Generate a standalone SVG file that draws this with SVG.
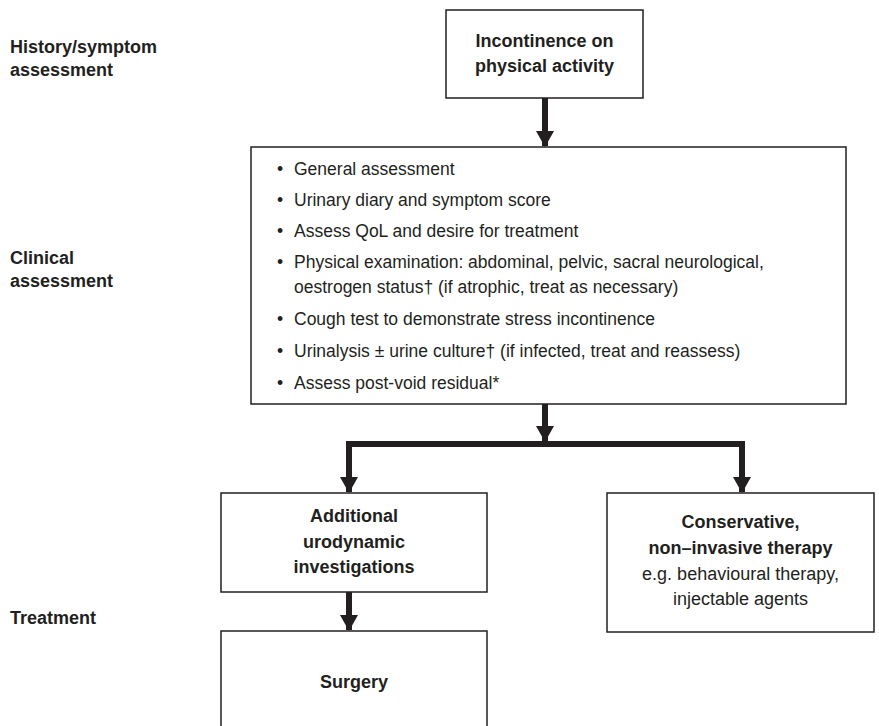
<svg xmlns="http://www.w3.org/2000/svg" width="879" height="726" viewBox="0 0 879 726">
<defs>
<style>
text{font-family:"Liberation Sans",Arial,sans-serif;fill:#231f20}
.lab{font-size:18px;font-weight:bold}
.ttl{font-size:18px;font-weight:bold;text-anchor:middle}
.sub{font-size:18px;text-anchor:middle}
.bul{font-size:17.5px}
.box{fill:#fff;stroke:#231f20;stroke-width:1.5}
.shaft{stroke:#231f20;stroke-width:6;fill:none}
</style>
<marker id="ah" markerWidth="16" markerHeight="18" refX="15" refY="9" orient="auto" markerUnits="userSpaceOnUse">
<path d="M0,0 L16,9 L0,18 Z" fill="#231f20"/>
</marker>
</defs>
<rect width="879" height="726" fill="#fff"/>
<g id="labels">
<text class="lab" x="10" y="53">History/symptom</text>
<text class="lab" x="10" y="76">assessment</text>
<text class="lab" x="10" y="264">Clinical</text>
<text class="lab" x="10" y="287">assessment</text>
<text class="lab" x="10" y="624">Treatment</text>
</g>
<g id="connectors">
<line class="shaft" x1="545" y1="98" x2="545" y2="146" marker-end="url(#ah)"/>
<line class="shaft" x1="545" y1="404" x2="545" y2="441" marker-end="url(#ah)"/>
<polyline class="shaft" points="349,480 349,444 742,444 742,480"/>
<line class="shaft" x1="349" y1="470" x2="349" y2="492" marker-end="url(#ah)"/>
<line class="shaft" x1="742" y1="470" x2="742" y2="492" marker-end="url(#ah)"/>
<line class="shaft" x1="349" y1="592" x2="349" y2="630" marker-end="url(#ah)"/>
</g>
<g id="node-start">
<rect class="box" x="446" y="10" width="197" height="88"/>
<text class="ttl" x="544.5" y="47">Incontinence on</text>
<text class="ttl" x="544.5" y="72">physical activity</text>
</g>
<g id="node-clinical">
<rect class="box" x="251" y="147" width="595" height="257"/>
<g class="bul">
<text x="277" y="175">•</text><text x="294" y="175">General assessment</text>
<text x="277" y="206">•</text><text x="294" y="206">Urinary diary and symptom score</text>
<text x="277" y="237">•</text><text x="294" y="237">Assess QoL and desire for treatment</text>
<text x="277" y="268">•</text><text x="294" y="268">Physical examination: abdominal, pelvic, sacral neurological,</text>
<text x="294" y="293">oestrogen status† (if atrophic, treat as necessary)</text>
<text x="277" y="325">•</text><text x="294" y="325">Cough test to demonstrate stress incontinence</text>
<text x="277" y="357">•</text><text x="294" y="357">Urinalysis ± urine culture† (if infected, treat and reassess)</text>
<text x="277" y="389">•</text><text x="294" y="389">Assess post-void residual*</text>
</g>
</g>
<g id="node-urodynamic">
<rect class="box" x="221" y="493" width="266" height="99"/>
<text class="ttl" x="354" y="522">Additional</text>
<text class="ttl" x="354" y="548">urodynamic</text>
<text class="ttl" x="354" y="573">investigations</text>
</g>
<g id="node-conservative">
<rect class="box" x="607" y="493" width="267" height="139"/>
<text class="ttl" x="740.5" y="528">Conservative,</text>
<text class="ttl" x="740.5" y="554">non–invasive therapy</text>
<text class="sub" x="740.5" y="580">e.g. behavioural therapy,</text>
<text class="sub" x="740.5" y="605">injectable agents</text>
</g>
<g id="node-surgery">
<rect class="box" x="221" y="631" width="266" height="110"/>
<text class="ttl" x="354" y="688">Surgery</text>
</g>
</svg>
